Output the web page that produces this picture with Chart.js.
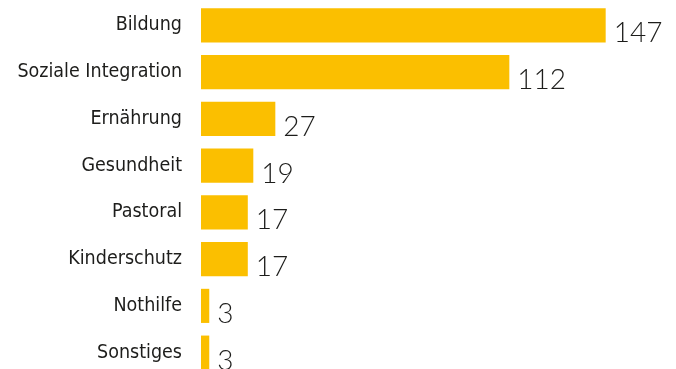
<!DOCTYPE html>
<html>
<head>
<meta charset="utf-8">
<script src="https://cdn.jsdelivr.net/npm/chart.js@4/dist/chart.umd.min.js"></script>
<style>
    html, body { margin: 0; padding: 0; background: #fff; overflow: hidden; }
    #wrap { width: 676px; height: 376px; position: relative; }
</style>
</head>
<body>
<div id="wrap"><canvas id="chart"></canvas></div>
<script>
// Themenbereiche und Anzahl
const categories = ['Bildung', 'Soziale Integration', 'Ernährung', 'Gesundheit', 'Pastoral', 'Kinderschutz', 'Nothilfe', 'Sonstiges'];
const counts = [147, 112, 27, 19, 17, 17, 3, 3];

const BAR_COLOR = '#FBBF00';
const TEXT_COLOR = '#1d1d1b';

// Zahlen rechts neben den Balken
const valueLabels = {
    id: 'valueLabels',
    afterDatasetsDraw(chart) {
        const ctx = chart.ctx;
        const meta = chart.getDatasetMeta(0);
        ctx.save();
        ctx.font = '300 28px Lato';
        ctx.fillStyle = TEXT_COLOR;
        ctx.textAlign = 'left';
        ctx.textBaseline = 'middle';
        meta.data.forEach((bar, i) => {
            ctx.fillText(String(counts[i]), bar.x + 8, bar.y + 8);
        });
        ctx.restore();
    }
};

new Chart(document.getElementById('chart'), {
    type: 'bar',
    data: {
        labels: categories,
        datasets: [{
            data: counts,
            backgroundColor: BAR_COLOR,
            borderWidth: 0,
            barPercentage: 0.73,
            categoryPercentage: 1
        }]
    },
    options: {
        indexAxis: 'y',
        responsive: true,
        maintainAspectRatio: false,
        animation: false,
        layout: { padding: { top: 2, right: 7, bottom: 0, left: 0 } },
        plugins: {
            legend: { display: false },
            tooltip: { enabled: false }
        },
        scales: {
            x: {
                display: false,
                min: 0,
                max: 170
            },
            y: {
                grid: { display: false, drawTicks: false },
                border: { display: false },
                afterFit(scale) {
                    scale.width = 201;
                    // keine zusätzliche Höhe für die Beschriftungen
                    scale.paddingTop = 0;
                    scale.paddingBottom = 0;
                },
                ticks: {
                    padding: 19,
                    color: TEXT_COLOR,
                    font: { family: "'DejaVu Sans Condensed', 'DejaVu Sans'", size: 19.5 }
                }
            }
        }
    },
    plugins: [valueLabels]
});
</script>
</body>
</html>
